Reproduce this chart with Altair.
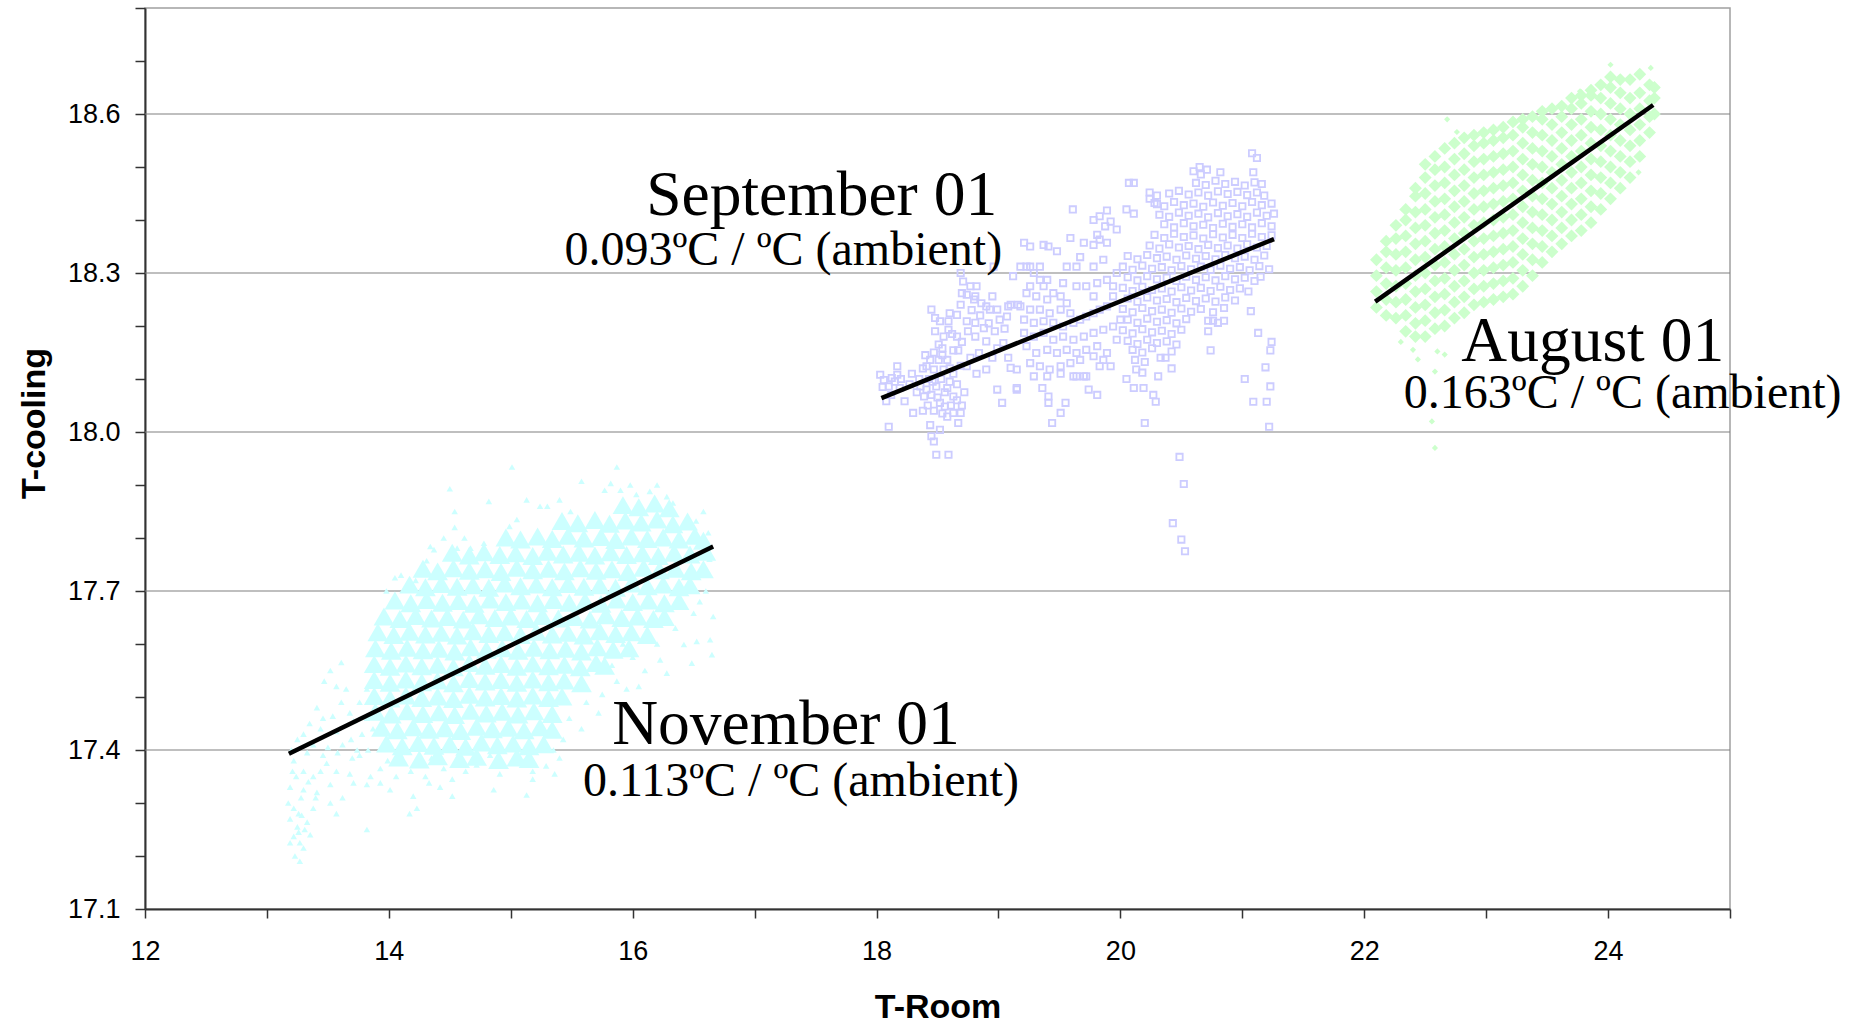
import altair as alt
import pandas as pd

# ---------------- axis values ----------------
x_ticks = [12, 13, 14, 15, 16, 17, 18, 19, 20, 21, 22, 23, 24, 25]
y_ticks = [17.1, 17.2, 17.3, 17.4, 17.5, 17.6, 17.7, 17.8, 17.9, 18.0,
           18.1, 18.2, 18.3, 18.4, 18.5, 18.6, 18.7, 18.8]
grid_y = [17.4, 17.7, 18.0, 18.3, 18.6]

# ---------------- November 01 (cyan triangles) ----------------
nov_core = [
    (15.92,17.862),(16.05,17.858),(16.18,17.865),(16.30,17.856),
    (15.42,17.832),(15.55,17.828),(15.69,17.834),(15.81,17.827),(15.94,17.833),(16.07,17.829),(16.20,17.835),(16.33,17.826),(16.45,17.831),
    (14.96,17.801),(15.08,17.797),(15.22,17.803),(15.34,17.798),(15.47,17.804),(15.60,17.799),(15.74,17.802),(15.86,17.796),(15.99,17.803),(16.12,17.798),(16.25,17.801),(16.38,17.797),(16.51,17.804),(16.58,17.795),
    (14.52,17.772),(14.66,17.767),(14.78,17.773),(14.91,17.768),(15.04,17.771),(15.18,17.766),(15.30,17.774),(15.43,17.769),(15.56,17.772),(15.69,17.767),(15.82,17.773),(15.95,17.768),(16.08,17.771),(16.21,17.766),(16.34,17.772),(16.47,17.769),(16.60,17.774),
    (14.28,17.742),(14.40,17.737),(14.53,17.743),(14.66,17.738),(14.79,17.741),(14.92,17.736),(15.05,17.744),(15.18,17.739),(15.31,17.742),(15.44,17.737),(15.57,17.743),(15.70,17.738),(15.83,17.741),(15.96,17.736),(16.09,17.744),(16.22,17.739),(16.35,17.742),(16.48,17.737),(16.58,17.741),
    (14.17,17.712),(14.30,17.707),(14.43,17.713),(14.56,17.708),(14.69,17.711),(14.82,17.706),(14.95,17.714),(15.08,17.709),(15.21,17.712),(15.34,17.707),(15.47,17.713),(15.60,17.708),(15.73,17.711),(15.86,17.706),(15.99,17.714),(16.12,17.709),(16.25,17.712),(16.38,17.707),(16.47,17.711),
    (14.05,17.682),(14.18,17.677),(14.31,17.683),(14.44,17.678),(14.57,17.681),(14.70,17.676),(14.83,17.684),(14.96,17.679),(15.09,17.682),(15.22,17.677),(15.35,17.683),(15.48,17.678),(15.61,17.681),(15.74,17.676),(15.87,17.684),(16.00,17.679),(16.13,17.682),(16.26,17.677),(16.38,17.681),
    (13.96,17.652),(14.09,17.647),(14.22,17.653),(14.35,17.648),(14.48,17.651),(14.61,17.646),(14.74,17.654),(14.87,17.649),(15.00,17.652),(15.13,17.647),(15.26,17.653),(15.39,17.648),(15.52,17.651),(15.65,17.646),(15.78,17.654),(15.91,17.649),(16.04,17.652),(16.17,17.647),(16.26,17.651),
    (13.91,17.622),(14.04,17.617),(14.17,17.623),(14.30,17.618),(14.43,17.621),(14.56,17.616),(14.69,17.624),(14.82,17.619),(14.95,17.622),(15.08,17.617),(15.21,17.623),(15.34,17.618),(15.47,17.621),(15.60,17.616),(15.73,17.624),(15.86,17.619),(15.99,17.622),(16.12,17.617),
    (13.89,17.592),(14.02,17.587),(14.15,17.593),(14.28,17.588),(14.41,17.591),(14.54,17.586),(14.67,17.594),(14.80,17.589),(14.93,17.592),(15.06,17.587),(15.19,17.593),(15.32,17.588),(15.45,17.591),(15.58,17.586),(15.71,17.594),(15.84,17.589),(15.97,17.592),
    (13.88,17.562),(14.01,17.557),(14.14,17.563),(14.27,17.558),(14.40,17.561),(14.53,17.556),(14.66,17.564),(14.79,17.559),(14.92,17.562),(15.05,17.557),(15.18,17.563),(15.31,17.558),(15.44,17.561),(15.57,17.556),(15.70,17.564),(15.77,17.559),
    (13.88,17.532),(14.01,17.527),(14.14,17.533),(14.27,17.528),(14.40,17.531),(14.53,17.526),(14.66,17.534),(14.79,17.529),(14.92,17.532),(15.05,17.527),(15.18,17.533),(15.31,17.528),(15.44,17.531),(15.58,17.526),
    (13.88,17.502),(14.01,17.497),(14.14,17.503),(14.27,17.498),(14.40,17.501),(14.53,17.496),(14.66,17.504),(14.79,17.499),(14.92,17.502),(15.05,17.497),(15.18,17.503),(15.31,17.498),(15.42,17.501),
    (13.89,17.472),(14.02,17.467),(14.15,17.473),(14.28,17.468),(14.41,17.471),(14.54,17.466),(14.67,17.474),(14.80,17.469),(14.93,17.472),(15.06,17.467),(15.19,17.473),(15.34,17.468),
    (13.94,17.442),(14.07,17.437),(14.20,17.443),(14.33,17.438),(14.46,17.441),(14.59,17.436),(14.72,17.444),(14.85,17.439),(14.98,17.442),(15.11,17.437),(15.24,17.443),(15.34,17.438),
    (13.98,17.412),(14.11,17.407),(14.24,17.413),(14.37,17.408),(14.50,17.411),(14.63,17.406),(14.76,17.414),(14.89,17.409),(15.02,17.412),(15.15,17.407),(15.27,17.411),
    (14.08,17.386),(14.25,17.382),(14.40,17.388),(14.58,17.383),(14.72,17.387),(14.90,17.381),(15.05,17.386),(15.15,17.383),
]
nov_sparse = [
    (15.01,17.934),(15.87,17.934),(14.50,17.893),(15.58,17.907),(15.82,17.903),(15.98,17.90),(16.20,17.90),(15.77,17.89),
    (15.90,17.89),(16.03,17.882),(16.14,17.888),(16.28,17.878),(15.40,17.872),(15.13,17.872),(14.82,17.869),(16.33,17.866),
    (14.54,17.85),(15.49,17.85),(15.24,17.86),(15.30,17.86),(16.58,17.85),(16.52,17.832),(15.05,17.835),(14.99,17.822),
    (14.54,17.82),(16.62,17.81),(16.63,17.76),(16.60,17.70),
    (14.34,17.784),(14.37,17.778),(14.56,17.781),(14.67,17.781),(14.31,17.757),(14.45,17.80),(14.62,17.80),(14.78,17.79),
    (14.05,17.725),(14.10,17.73),(13.98,17.70),(14.22,17.72),
    (16.66,17.652),(16.635,17.608),(16.65,17.58),(16.50,17.658),(16.485,17.564),(16.28,17.545),(16.225,17.57),(16.42,17.599),
    (16.525,17.605),(16.35,17.63),(16.55,17.68),(16.10,17.55),(15.87,17.53),(15.95,17.515),(15.75,17.505),(15.62,17.49),
    (15.72,17.47),(15.48,17.46),(15.58,17.44),(15.43,17.42),(15.35,17.40),(15.40,17.385),(15.29,17.37),(15.18,17.36),
    (15.36,17.355),(16.05,17.52),(15.83,17.56),(16.00,17.575),(15.92,17.60),(16.20,17.60),
    (13.22,17.38),(13.30,17.36),(13.38,17.35),(13.49,17.375),(13.57,17.36),(13.68,17.355),(13.76,17.39),(13.85,17.35),
    (13.93,17.365),(13.99,17.38),(14.10,17.39),(14.18,17.36),(14.26,17.375),(14.35,17.385),(14.45,17.365),(14.56,17.38),
    (14.63,17.36),(14.72,17.372),(14.83,17.39),(14.91,17.355),(15.00,17.375),(15.11,17.38),(15.18,17.345),(14.52,17.345),
    (14.30,17.35),(14.06,17.35),
    (13.19,17.33),(13.30,17.325),(13.41,17.32),(13.52,17.335),(13.71,17.338),(13.82,17.335),(13.93,17.338),(14.01,17.325),
    (14.20,17.313),(14.33,17.338),(14.42,17.33),(14.52,17.313),(14.86,17.325),(15.13,17.315),(13.62,17.31),
    (13.175,17.30),(13.22,17.29),(13.285,17.277),(13.33,17.264),(13.19,17.27),(13.38,17.29),(13.52,17.30),(13.57,17.28),
    (13.82,17.25),(14.17,17.28),(14.23,17.29),(13.25,17.255),
    (13.22,17.237),(13.27,17.225),(13.30,17.215),(13.355,17.24),(13.23,17.20),(13.27,17.19),(13.19,17.225),(13.26,17.245),
    (13.61,17.565),(13.57,17.52),(13.65,17.515),(13.82,17.515),(13.41,17.48),(13.46,17.46),(13.61,17.49),(13.68,17.47),
    (13.76,17.49),(13.35,17.45),(13.54,17.464),(13.71,17.455),(13.82,17.46),(13.30,17.43),(13.44,17.44),(13.57,17.435),
    (13.69,17.42),(13.78,17.43),(13.87,17.44),(13.25,17.42),(13.38,17.41),(13.50,17.405),(13.62,17.41),(13.74,17.40),
    (13.20,17.40),(13.33,17.395),(13.46,17.39),(13.58,17.395),(13.70,17.385),(13.83,17.40),(13.52,17.55),(13.47,17.53),
    (13.24,17.35),(13.28,17.31),(13.34,17.34),(13.44,17.36),(13.21,17.36),(13.26,17.28),(13.31,17.25),(13.40,17.31),
]

# ---------------- September 01 (lavender open squares) ----------------
sep_left = [
    (18.45,18.231),(18.48,18.215),(18.52,18.209),(18.59,18.209),(18.48,18.19),(18.59,18.193),(18.66,18.18),(18.51,18.165),
    (18.54,18.158),(18.63,18.154),(18.67,18.154),(18.44,18.136),(18.51,18.136),(18.58,18.136),(18.41,18.124),(18.47,18.118),
    (18.55,18.118),(18.63,18.11),(18.36,18.086),(18.41,18.08),(18.49,18.086),(18.58,18.083),(18.63,18.067),(18.39,18.067),
    (18.52,18.055),(18.56,18.048),(18.58,18.029),(18.63,18.036),(18.69,18.036),(18.67,18.017),(18.44,18.013),(18.52,18.004),
    (18.45,17.992),(18.47,17.982),(18.49,17.957),(18.59,17.957),(18.10,18.01),(18.03,18.108),(18.06,18.098),(18.125,18.102),
    (18.17,18.108),(18.17,18.124),(18.10,18.086),(18.19,18.083),(18.23,18.058),(18.08,18.058),(18.29,18.11),(18.30,18.036),
    (18.43,18.10),(18.46,18.095),(18.53,18.10),(18.60,18.095),(18.45,18.07),(18.50,18.065),(18.56,18.075),(18.42,18.05),
    (18.47,18.04),(18.54,18.035),(18.61,18.05),(18.66,18.09),(18.60,18.12),(18.69,18.125),(18.54,18.145),(18.47,18.15),
    (18.40,18.145),(18.70,18.17),(18.62,18.185),(18.55,18.18),(18.12,18.07),(18.15,18.095),(18.05,18.085),(18.20,18.10),
    (18.27,18.09),(18.33,18.075),(18.35,18.10),(18.38,18.12),(18.66,18.06),(18.72,18.075),(18.70,18.05),(18.38,18.04),
    (18.69,18.30),(18.71,18.284),(18.77,18.275),(18.82,18.275),(18.70,18.262),(18.74,18.259),(18.81,18.256),(18.69,18.24),
    (18.80,18.25),(18.86,18.243),(18.90,18.237),(18.95,18.256),(18.93,18.231),(18.99,18.231),(19.01,18.212),(19.07,18.218),
    (19.08,18.237),(18.60,18.224),(18.66,18.221),(18.74,18.209),(18.81,18.206),(18.88,18.196),(18.81,18.18),(18.90,18.171),
    (19.04,18.168),(18.99,18.158),(19.10,18.24),(19.16,18.24),(19.12,18.294),(19.18,18.312),(19.26,18.312),(19.34,18.312),
    (18.96,18.312),(18.84,18.149),(18.77,18.14),(18.74,18.124),(18.90,18.118),(18.82,18.11),(18.99,18.08),(19.03,18.055),
    (19.10,18.121),(19.15,18.083),(18.75,18.19),(18.78,18.23),(18.85,18.22),(18.92,18.205),(18.97,18.19),(19.05,18.195),
    (18.95,18.14),(19.08,18.14),
]
sep_mid = [
    (19.21,18.357),(19.26,18.35),(19.37,18.353),(19.41,18.35),(19.48,18.341),(19.23,18.312),(19.29,18.30),(19.34,18.287),
    (19.40,18.287),(19.26,18.275),(19.37,18.275),(19.45,18.262),(19.23,18.262),(19.31,18.256),(19.40,18.25),(19.51,18.256),
    (19.56,18.243),(19.18,18.237),(19.26,18.231),(19.34,18.231),(19.42,18.224),(19.51,18.231),(19.59,18.224),(19.21,18.212),
    (19.29,18.206),(19.37,18.209),(19.45,18.206),(19.53,18.199),(19.615,18.206),(19.67,18.212),(19.72,18.218),(19.78,18.224),
    (19.83,18.231),(19.89,18.237),(19.94,18.256),(19.78,18.256),(19.72,18.275),(19.81,18.281),(19.89,18.287),(19.64,18.275),
    (19.53,18.281),(19.64,18.312),(19.78,18.312),(19.86,18.325),(19.97,18.30),(19.94,18.275),(19.21,18.187),(19.29,18.18),
    (19.37,18.187),(19.45,18.174),(19.53,18.18),(19.615,18.174),(19.70,18.18),(19.78,18.187),(19.86,18.193),(19.94,18.199),
    (20.00,18.212),(19.23,18.162),(19.31,18.149),(19.40,18.155),(19.48,18.149),(19.56,18.155),(19.64,18.149),(19.72,18.155),
    (19.81,18.162),(19.89,18.149),(19.97,18.174),(19.26,18.13),(19.34,18.124),(19.42,18.118),(19.51,18.124),(19.59,18.13),
    (19.67,18.136),(19.78,18.143),(19.86,18.136),(19.29,18.105),(19.40,18.105),(19.51,18.11),(19.615,18.105),(19.72,18.105),
    (19.83,18.124),(19.92,18.124),(19.36,18.083),(19.41,18.067),(19.41,18.055),(19.44,18.017),(19.51,18.036),(19.55,18.055),
    (19.74,18.08),(19.81,18.07),(19.15,18.08),(19.15,18.118),(19.64,18.105),(19.70,18.105),(19.61,18.42),(19.92,18.397),
    (19.875,18.388),(19.97,18.382),(19.81,18.372),(19.89,18.357),(19.83,18.363),(19.59,18.366),(19.70,18.357),(19.78,18.353),
    (19.67,18.33),(19.56,18.312),(19.78,18.40),(19.83,18.407),(19.89,18.418),(20.24,18.44),(20.30,18.43),
]
sep_right = [
    (20.60,18.492),(20.66,18.486),(20.71,18.495),(20.82,18.49),(21.09,18.49),(21.08,18.526),(21.12,18.517),(20.65,18.50),
    (20.62,18.47),(20.70,18.466),(20.78,18.474),(20.86,18.468),(20.94,18.472),(21.02,18.465),(21.10,18.471),(21.16,18.468),(20.07,18.47),(20.11,18.47),
    (20.24,18.452),(20.30,18.446),(20.40,18.45),(20.48,18.455),(20.56,18.448),(20.64,18.452),(20.72,18.446),(20.80,18.454),(20.88,18.449),(20.96,18.453),(21.04,18.447),(21.12,18.452),(21.18,18.446),
    (20.05,18.42),(20.11,18.412),(20.28,18.432),(20.36,18.426),(20.44,18.434),(20.52,18.428),(20.60,18.431),(20.68,18.425),(20.76,18.433),(20.84,18.427),(20.92,18.432),(21.00,18.426),(21.08,18.434),(21.16,18.428),(21.24,18.431),
    (20.32,18.41),(20.40,18.406),(20.48,18.414),(20.56,18.408),(20.64,18.412),(20.72,18.405),(20.80,18.413),(20.88,18.407),(20.96,18.411),(21.04,18.406),(21.12,18.414),(21.20,18.408),(21.26,18.412),
    (20.36,18.392),(20.44,18.386),(20.52,18.394),(20.60,18.388),(20.68,18.391),(20.76,18.385),(20.84,18.393),(20.92,18.387),(21.00,18.392),(21.08,18.386),(21.16,18.394),(21.24,18.388),
    (20.28,18.372),(20.36,18.366),(20.44,18.374),(20.52,18.368),(20.60,18.371),(20.68,18.365),(20.76,18.373),(20.84,18.367),(20.92,18.372),(21.00,18.366),(21.08,18.374),(21.16,18.368),(21.24,18.371),
    (20.24,18.352),(20.32,18.346),(20.40,18.354),(20.48,18.348),(20.56,18.351),(20.64,18.345),(20.72,18.353),(20.80,18.347),(20.88,18.352),(20.96,18.346),(21.04,18.354),(21.12,18.348),(21.20,18.351),
    (20.06,18.332),(20.14,18.326),(20.22,18.334),(20.30,18.328),(20.38,18.331),(20.46,18.325),(20.54,18.333),(20.62,18.327),(20.70,18.332),(20.78,18.326),(20.86,18.334),(20.94,18.328),(21.02,18.331),(21.10,18.325),(21.18,18.333),
    (20.02,18.312),(20.10,18.306),(20.18,18.314),(20.26,18.308),(20.34,18.311),(20.42,18.305),(20.50,18.313),(20.58,18.307),(20.66,18.312),(20.74,18.306),(20.82,18.314),(20.90,18.308),(20.98,18.311),(21.06,18.305),(21.14,18.313),(21.22,18.307),
    (20.06,18.292),(20.14,18.286),(20.22,18.294),(20.30,18.288),(20.38,18.291),(20.46,18.285),(20.54,18.293),(20.62,18.287),(20.70,18.292),(20.78,18.286),(20.86,18.294),(20.94,18.288),(21.02,18.291),(21.10,18.285),(21.15,18.293),
    (20.02,18.272),(20.10,18.266),(20.18,18.274),(20.26,18.268),(20.34,18.271),(20.42,18.265),(20.50,18.273),(20.58,18.267),(20.66,18.272),(20.74,18.266),(20.82,18.274),(20.90,18.268),(20.98,18.271),(21.05,18.265),
    (20.06,18.252),(20.14,18.246),(20.22,18.254),(20.30,18.248),(20.38,18.251),(20.46,18.245),(20.54,18.253),(20.62,18.247),(20.70,18.252),(20.78,18.246),(20.86,18.254),(20.94,18.248),
    (20.02,18.232),(20.10,18.226),(20.18,18.234),(20.26,18.228),(20.34,18.231),(20.42,18.225),(20.50,18.233),(20.58,18.227),(20.66,18.232),(20.76,18.226),(20.85,18.234),
    (20.06,18.212),(20.14,18.206),(20.22,18.214),(20.30,18.208),(20.38,18.211),(20.46,18.205),(20.54,18.213),(20.72,18.21),(20.80,18.206),
    (20.02,18.192),(20.10,18.186),(20.18,18.194),(20.26,18.188),(20.34,18.191),(20.42,18.185),(20.50,18.193),(20.72,18.19),
    (20.06,18.172),(20.14,18.166),(20.22,18.174),(20.30,18.168),(20.38,18.171),(20.46,18.165),
    (20.10,18.155),(20.18,18.15),(20.26,18.158),(20.42,18.152),(20.74,18.154),
    (20.12,18.136),(20.20,18.132),(20.33,18.14),(20.13,18.118),(20.18,18.112),
    (21.07,18.228),(21.13,18.187),(21.24,18.17),(21.23,18.154),(21.19,18.122),(21.23,18.086),(21.02,18.10),(21.09,18.057),
    (21.20,18.057),(21.22,18.01),(20.76,18.21),(20.85,18.21),(20.20,18.017),(20.31,18.105),(20.37,18.14),(20.42,18.12),
    (20.05,18.10),(20.11,18.083),(20.19,18.083),(20.27,18.07),(20.29,18.057),
    (20.485,17.953),(20.52,17.902),(20.43,17.828),(20.50,17.797),(20.53,17.775),
]

# ---------------- August 01 (green diamonds) ----------------
aug_pts = [
    (22.10,18.235),(22.10,18.265),(22.10,18.295),(22.10,18.325),
    (22.18,18.22),(22.18,18.25),(22.18,18.28),(22.18,18.31),(22.18,18.34),(22.18,18.36),
    (22.26,18.215),(22.26,18.245),(22.26,18.275),(22.26,18.305),(22.26,18.335),(22.26,18.365),(22.26,18.39),
    (22.34,18.19),(22.34,18.22),(22.34,18.25),(22.34,18.28),(22.34,18.31),(22.34,18.34),(22.34,18.37),(22.34,18.40),(22.34,18.42),
    (22.42,18.18),(22.42,18.205),(22.42,18.235),(22.42,18.265),(22.42,18.295),(22.42,18.325),(22.42,18.355),(22.42,18.385),(22.42,18.415),(22.42,18.445),(22.42,18.46),
    (22.50,18.18),(22.50,18.21),(22.50,18.24),(22.50,18.27),(22.50,18.30),(22.50,18.33),(22.50,18.36),(22.50,18.39),(22.50,18.42),(22.50,18.45),(22.50,18.48),(22.50,18.505),
    (22.58,18.195),(22.58,18.225),(22.58,18.255),(22.58,18.285),(22.58,18.315),(22.58,18.345),(22.58,18.375),(22.58,18.405),(22.58,18.435),(22.58,18.465),(22.58,18.495),(22.58,18.52),
    (22.66,18.20),(22.66,18.23),(22.66,18.26),(22.66,18.29),(22.66,18.32),(22.66,18.35),(22.66,18.38),(22.66,18.41),(22.66,18.44),(22.66,18.47),(22.66,18.50),(22.66,18.535),
    (22.74,18.215),(22.74,18.245),(22.74,18.275),(22.74,18.305),(22.74,18.335),(22.74,18.365),(22.74,18.395),(22.74,18.425),(22.74,18.455),(22.74,18.485),(22.74,18.515),(22.74,18.545),
    (22.82,18.225),(22.82,18.255),(22.82,18.285),(22.82,18.315),(22.82,18.345),(22.82,18.375),(22.82,18.405),(22.82,18.435),(22.82,18.465),(22.82,18.495),(22.82,18.525),(22.82,18.555),
    (22.90,18.24),(22.90,18.27),(22.90,18.30),(22.90,18.33),(22.90,18.36),(22.90,18.39),(22.90,18.42),(22.90,18.45),(22.90,18.48),(22.90,18.51),(22.90,18.54),(22.90,18.56),
    (22.98,18.245),(22.98,18.275),(22.98,18.305),(22.98,18.335),(22.98,18.365),(22.98,18.395),(22.98,18.425),(22.98,18.455),(22.98,18.485),(22.98,18.515),(22.98,18.545),(22.98,18.565),
    (23.06,18.25),(23.06,18.28),(23.06,18.31),(23.06,18.34),(23.06,18.37),(23.06,18.40),(23.06,18.43),(23.06,18.46),(23.06,18.49),(23.06,18.52),(23.06,18.55),(23.06,18.57),
    (23.14,18.255),(23.14,18.285),(23.14,18.315),(23.14,18.345),(23.14,18.375),(23.14,18.405),(23.14,18.435),(23.14,18.465),(23.14,18.495),(23.14,18.525),(23.14,18.555),(23.14,18.575),
    (23.22,18.26),(23.22,18.29),(23.22,18.32),(23.22,18.35),(23.22,18.38),(23.22,18.41),(23.22,18.44),(23.22,18.47),(23.22,18.50),(23.22,18.53),(23.22,18.56),(23.22,18.585),
    (23.30,18.275),(23.30,18.305),(23.30,18.335),(23.30,18.365),(23.30,18.395),(23.30,18.425),(23.30,18.455),(23.30,18.485),(23.30,18.515),(23.30,18.545),(23.30,18.575),(23.30,18.59),
    (23.38,18.295),(23.38,18.325),(23.38,18.355),(23.38,18.385),(23.38,18.415),(23.38,18.445),(23.38,18.475),(23.38,18.505),(23.38,18.535),(23.38,18.565),(23.38,18.595),
    (23.46,18.32),(23.46,18.35),(23.46,18.38),(23.46,18.41),(23.46,18.44),(23.46,18.47),(23.46,18.50),(23.46,18.53),(23.46,18.56),(23.46,18.59),(23.46,18.605),
    (23.54,18.34),(23.54,18.37),(23.54,18.40),(23.54,18.43),(23.54,18.46),(23.54,18.49),(23.54,18.52),(23.54,18.55),(23.54,18.58),(23.54,18.61),
    (23.62,18.355),(23.62,18.385),(23.62,18.415),(23.62,18.445),(23.62,18.475),(23.62,18.505),(23.62,18.535),(23.62,18.565),(23.62,18.595),(23.62,18.615),
    (23.70,18.37),(23.70,18.40),(23.70,18.43),(23.70,18.46),(23.70,18.49),(23.70,18.52),(23.70,18.55),(23.70,18.58),(23.70,18.61),(23.70,18.63),
    (23.78,18.38),(23.78,18.41),(23.78,18.44),(23.78,18.47),(23.78,18.50),(23.78,18.53),(23.78,18.56),(23.78,18.59),(23.78,18.62),(23.78,18.635),
    (23.86,18.395),(23.86,18.425),(23.86,18.455),(23.86,18.485),(23.86,18.515),(23.86,18.545),(23.86,18.575),(23.86,18.605),(23.86,18.635),(23.86,18.645),
    (23.94,18.42),(23.94,18.45),(23.94,18.48),(23.94,18.51),(23.94,18.54),(23.94,18.57),(23.94,18.60),(23.94,18.63),(23.94,18.655),
    (24.02,18.44),(24.02,18.47),(24.02,18.50),(24.02,18.53),(24.02,18.56),(24.02,18.59),(24.02,18.62),(24.02,18.65),(24.02,18.67),
    (24.10,18.46),(24.10,18.49),(24.10,18.52),(24.10,18.55),(24.10,18.58),(24.10,18.61),(24.10,18.64),(24.10,18.665),
    (24.18,18.48),(24.18,18.51),(24.18,18.54),(24.18,18.57),(24.18,18.60),(24.18,18.63),(24.18,18.665),
    (24.26,18.52),(24.26,18.55),(24.26,18.58),(24.26,18.61),(24.26,18.64),(24.26,18.675),
    (24.34,18.565),(24.34,18.595),(24.34,18.625),(24.34,18.655),
    (24.38,18.60),(24.38,18.63),(24.38,18.65),
]
aug_sparse = [
    (22.40,18.155),(22.60,18.152),(22.66,18.146),(22.58,18.114),(22.555,18.02),(22.58,17.97),(22.44,18.137),
    (24.02,18.693),(24.35,18.687),(22.68,18.59),(22.76,18.566),(23.77,18.643),(24.25,18.49),(22.30,18.17),
]

# ---------------- fitted lines (end points) ----------------
fit_group = ["nov", "nov", "sep", "sep", "aug", "aug"]
fit_x = [13.18, 16.66, 18.04, 21.26, 22.09, 24.37]
fit_y = [17.393, 17.784, 18.064, 18.364, 18.246, 18.617]

# ---------------- annotations ----------------
title_text = ["September 01", "August 01", "November 01"]
title_x = [17.55, 23.874, 17.257]
title_y = [18.409, 18.1345, 17.412]
sub_text = ["0.093\u00baC / \u00baC (ambient)", "0.163\u00baC / \u00baC (ambient)", "0.113\u00baC / \u00baC (ambient)"]
sub_x = [17.235, 24.12, 17.38]
sub_y = [18.316, 18.045, 17.314]


def pts(lst):
    return pd.DataFrame({"x": [p[0] for p in lst], "y": [p[1] for p in lst]})


xs = alt.Scale(domain=[12, 25], nice=False, zero=False)
ys = alt.Scale(domain=[17.1, 18.8], nice=False, zero=False)
xax = alt.Axis(values=x_ticks, grid=False, title="T-Room",
               labelExpr="(datum.value % 2 == 0 && datum.value < 25) ? datum.label : ''",
               titleY=108, titleBaseline="alphabetic", labelFlush=False, labelOverlap=False)
yax = alt.Axis(values=y_ticks, grid=False, title="T-cooling",
               labelExpr="(round(datum.value * 10) % 3 == 0) ? format(datum.value, '.1f') : ''",
               titleX=-101, titleY=415, titleAngle=270, titleAlign="center",
               titleBaseline="alphabetic", labelFlush=False, labelOverlap=False)
X = alt.X("x:Q", scale=xs, axis=xax)
Y = alt.Y("y:Q", scale=ys, axis=yax)

grid = alt.Chart(pd.DataFrame({"y": grid_y})).mark_rule(color="#808080", strokeWidth=1.2).encode(y=Y)

nov_c = alt.Chart(pts(nov_core)).mark_point(shape="triangle-up", filled=True, size=430,
                                             color="#CCFFFF", opacity=1).encode(x=X, y=Y)
nov_s = alt.Chart(pts(nov_sparse)).mark_point(shape="triangle-up", filled=True, size=42,
                                               color="#CCFFFF", opacity=1).encode(x=X, y=Y)
sep_all = alt.Chart(pts(sep_left + sep_mid + sep_right)).mark_point(
    shape="square", filled=False, size=40, color="#CCCCFF", strokeWidth=1.8, opacity=1).encode(x=X, y=Y)
aug_c = alt.Chart(pts(aug_pts)).mark_point(shape="diamond", filled=True, size=165,
                                           color="#CCFFCC", opacity=1).encode(x=X, y=Y)
aug_s = alt.Chart(pts(aug_sparse)).mark_point(shape="diamond", filled=True, size=38,
                                              color="#CCFFCC", opacity=1).encode(x=X, y=Y)

fits = alt.Chart(pd.DataFrame({"g": fit_group, "x": fit_x, "y": fit_y})).mark_line(
    color="black", strokeWidth=4.5).encode(x=X, y=Y, detail="g:N")

titles = alt.Chart(pd.DataFrame({"t": title_text, "x": title_x, "y": title_y})).mark_text(
    font="Liberation Serif", fontSize=63.5, align="center", baseline="alphabetic", color="black"
).encode(x=X, y=Y, text="t:N")
subs = alt.Chart(pd.DataFrame({"t": sub_text, "x": sub_x, "y": sub_y})).mark_text(
    font="Liberation Serif", fontSize=48, align="center", baseline="alphabetic", color="black"
).encode(x=X, y=Y, text="t:N")

chart = alt.layer(grid, nov_c, nov_s, sep_all, aug_c, aug_s, fits, titles, subs).properties(
    width=1585, height=901,
    autosize=alt.AutoSizeParams(type="none"),
    padding={"left": 145, "top": 8, "right": 128, "bottom": 114},
    background="white",
).configure_view(stroke="#a0a0a0", strokeWidth=1.5).configure_axis(
    labelFont="Liberation Sans", labelFontSize=27, labelColor="black",
    titleFont="Liberation Sans", titleFontSize=34, titleFontWeight="bold", titleColor="black",
    domainColor="#333333", domainWidth=2, tickColor="#333333", tickWidth=1.5,
).configure_axisX(tickSize=9, labelPadding=20).configure_axisY(tickSize=10, labelPadding=15)

chart.save("out.html", embed_options={"renderer": "svg", "actions": False})
